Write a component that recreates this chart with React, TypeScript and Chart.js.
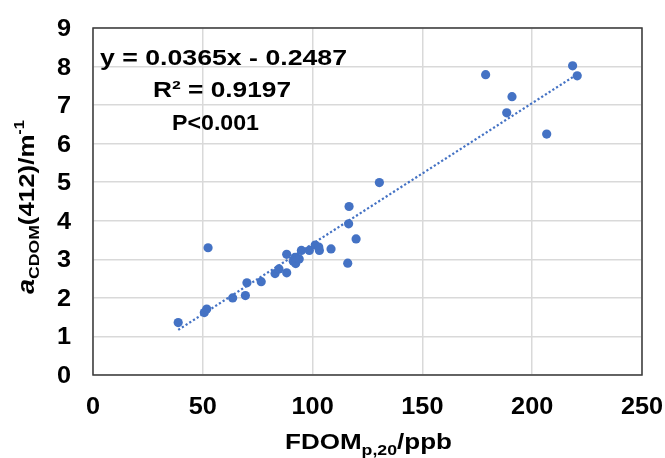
import React, { useEffect, useRef } from "react";
import { Chart, registerables } from "chart.js";

Chart.register(...registerables);

// ---- data ----
const fdom = [38.8, 52.4, 50.7, 51.8, 63.6, 69.4, 70.1, 76.6, 82.9, 84.7, 88.2, 88.2, 91.2, 92.3, 92.8, 93.9, 92.0, 94.9, 98.5, 101.2, 102.8, 103.1, 108.4, 116.0, 116.4, 119.8, 116.6, 130.4, 178.8, 190.8, 188.4, 206.6, 218.4, 220.5];
const acdom = [1.36, 3.30, 1.62, 1.71, 2.00, 2.06, 2.39, 2.42, 2.63, 2.75, 2.65, 3.13, 2.95, 2.89, 3.03, 3.01, 3.05, 3.23, 3.23, 3.37, 3.32, 3.23, 3.27, 2.90, 3.92, 3.53, 4.37, 4.99, 7.79, 7.22, 6.80, 6.25, 8.02, 7.76];
const trendX = [38.8, 220.5];
const trendY = [1.17, 7.8];
const xTicks = [0, 50, 100, 150, 200, 250];
const yTicks = [0, 1, 2, 3, 4, 5, 6, 7, 8, 9];
const eqText = "y = 0.0365x - 0.2487";
const r2Text = "R² = 0.9197";
const pText = "P<0.001";

const FONT = '"Liberation Sans", Arial, sans-serif';
const BLUE = "#4472C4";

type Seg = { t: string; size: number; dy?: number; italic?: boolean };

function segFont(s: Seg) {
  return `${s.italic ? "italic " : ""}bold ${s.size}px ${FONT}`;
}

function naturalWidth(ctx: CanvasRenderingContext2D, segs: Seg[]) {
  let w = 0;
  for (const s of segs) {
    ctx.font = segFont(s);
    w += ctx.measureText(s.t).width;
  }
  return w;
}

// draws left-aligned segments at (x, y) baseline, horizontally scaled
function drawSegs(ctx: CanvasRenderingContext2D, segs: Seg[], x: number, y: number, sx: number) {
  ctx.save();
  ctx.translate(x, y);
  ctx.scale(sx, 1);
  ctx.fillStyle = "#000";
  ctx.textBaseline = "alphabetic";
  ctx.textAlign = "left";
  let cx = 0;
  for (const s of segs) {
    ctx.font = segFont(s);
    ctx.fillText(s.t, cx, s.dy || 0);
    cx += ctx.measureText(s.t).width;
  }
  ctx.restore();
}

function drawFit(ctx: CanvasRenderingContext2D, segs: Seg[], x: number, y: number, target: number) {
  const w = naturalWidth(ctx, segs);
  drawSegs(ctx, segs, x, y, target / w);
}

const textPlugin = {
  id: "textPlugin",
  afterDraw(chart: any) {
    const ctx: CanvasRenderingContext2D = chart.ctx;
    const { left, top, right, bottom } = chart.chartArea;
    const xs = chart.scales.x;
    const ys = chart.scales.y;

    // plot box
    ctx.save();
    ctx.strokeStyle = "#3a3a3a";
    ctx.lineWidth = 1.5;
    ctx.strokeRect(left, top, right - left, bottom - top);
    ctx.restore();

    const tickSize = 23;
    const tsx = 1.1;
    // x tick labels
    for (const v of xTicks) {
      const s: Seg = { t: String(v), size: tickSize };
      const w = naturalWidth(ctx, [s]) * tsx;
      drawSegs(ctx, [s], xs.getPixelForValue(v) - w / 2, 414, tsx);
    }
    // y tick labels
    for (const v of yTicks) {
      const s: Seg = { t: String(v), size: tickSize };
      const w = naturalWidth(ctx, [s]) * tsx;
      drawSegs(ctx, [s], 71 - w, ys.getPixelForValue(v) + 8, tsx);
    }

    // annotations
    drawFit(ctx, [{ t: eqText, size: 22 }], 100, 65, 247);
    drawFit(ctx, [{ t: r2Text, size: 22 }], 153, 97, 138);
    drawFit(ctx, [{ t: pText, size: 22 }], 172, 130, 87);

    // x title
    drawFit(
      ctx,
      [
        { t: "FDOM", size: 22 },
        { t: "p,20", size: 15, dy: 6 },
        { t: "/ppb", size: 22 },
      ],
      285,
      449,
      167
    );

    // y title (rotated)
    ctx.save();
    ctx.translate(34, 294);
    ctx.rotate(-Math.PI / 2);
    drawFit(
      ctx,
      [
        { t: "a", size: 23, italic: true },
        { t: "CDOM", size: 15, dy: 5 },
        { t: "(412)/m", size: 22 },
        { t: "-1", size: 14, dy: -10 },
      ],
      0,
      0,
      174
    );
    ctx.restore();
  },
};

export default function App() {
  const ref = useRef<HTMLCanvasElement>(null);

  useEffect(() => {
    if (!ref.current) return;
    const points = fdom.map((x, i) => ({ x, y: acdom[i] }));
    const trend = trendX.map((x, i) => ({ x, y: trendY[i] }));
    const chart = new Chart(ref.current, {
      type: "scatter",
      data: {
        datasets: [
          {
            label: "data",
            data: points,
            backgroundColor: BLUE,
            borderColor: BLUE,
            borderWidth: 0,
            pointRadius: 4.6,
            order: 2,
          },
          {
            type: "line",
            label: "trend",
            data: trend,
            borderColor: BLUE,
            borderWidth: 2.2,
            borderDash: [2.2, 2.2],
            pointRadius: 0,
            showLine: true,
            fill: false,
            order: 1,
          } as any,
        ],
      },
      options: {
        responsive: false,
        animation: false,
        devicePixelRatio: 1,
        layout: { padding: { left: 0, top: 28, right: 23, bottom: 0 } },
        plugins: { legend: { display: false }, tooltip: { enabled: false } },
        scales: {
          x: {
            type: "linear",
            min: 0,
            max: 250,
            ticks: { stepSize: 50, display: false },
            grid: { color: "#d9d9d9", lineWidth: 1.5, drawTicks: false },
            border: { display: false },
            afterFit: (s: any) => {
              s.height = 83;
            },
          },
          y: {
            type: "linear",
            min: 0,
            max: 9,
            ticks: { stepSize: 1, display: false },
            grid: { color: "#d9d9d9", lineWidth: 1.5, drawTicks: false },
            border: { display: false },
            afterFit: (s: any) => {
              s.width = 93;
            },
          },
        },
      },
      plugins: [textPlugin],
    });
    return () => chart.destroy();
  }, []);

  return (
    <div style={{ position: "absolute", left: 0, top: 0, width: 665, height: 458, background: "#fff" }}>
      <canvas ref={ref} width={665} height={458} style={{ width: 665, height: 458, display: "block" }} />
    </div>
  );
}
